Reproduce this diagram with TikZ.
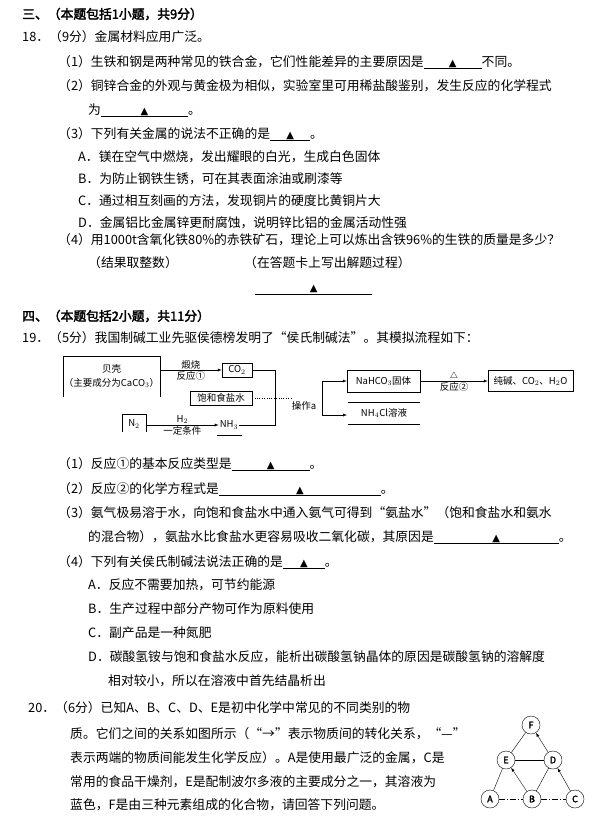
\documentclass[tikz,border=0pt]{standalone}
\usepackage{fontspec}
\setmainfont[AutoFakeBold=2.5]{Noto Sans CJK SC}
\newfontfamily\dejavu{DejaVu Sans}
\newcommand{\tri}{{\dejavu\fontsize{10}{10}\selectfont ▲}}
\newcommand{\blk}[1]{\rlap{\rule[-2.5pt]{#1pt}{0.6pt}}\makebox[#1pt]{\tri}}
\begin{document}
\begin{tikzpicture}[x=1pt,y=-1pt,
  t/.style={anchor=west,inner sep=0pt,font=\fontsize{12.8}{14}\selectfont},
  h/.style={t,font=\fontsize{12.8}{14}\selectfont\bfseries},
  fb/.style={draw,thin,inner sep=1pt,font=\fontsize{9.5}{11}\selectfont,minimum height=14pt},
  fl/.style={inner sep=1pt,font=\fontsize{9.5}{11}\selectfont},
  ar/.style={-latex,thin},
  cn/.style={circle,draw,thin,minimum size=18pt,inner sep=0pt,font=\fontsize{9}{9}\selectfont\bfseries}]
\useasboundingbox (0,0) rectangle (609,824);
\node[h] (h3) at (22,14) {三、（本题包括1小题，共9分）};
\node[t] (q18) at (22,37) {18．（9分）金属材料应用广泛。};
\node[t] (a1) at (58,62) {（1）生铁和钢是两种常见的铁合金，它们性能差异的主要原因是\blk{58}不同。};
\node[t] (a2) at (58,86) {（2）铜锌合金的外观与黄金极为相似，实验室里可用稀盐酸鉴别，发生反应的化学程式};
\node[t] (a2b) at (88,110) {为\blk{87}。};
\node[t] (a3) at (58,134) {（3）下列有关金属的说法不正确的是\blk{40}。};
\node[t] (oA) at (78,157) {A．镁在空气中燃烧，发出耀眼的白光，生成白色固体};
\node[t] (oB) at (78,179) {B．为防止钢铁生锈，可在其表面涂油或刷漆等};
\node[t] (oC) at (78,201) {C．通过相互刻画的方法，发现铜片的硬度比黄铜片大};
\node[t] (oD) at (78,223) {D．金属铝比金属锌更耐腐蚀，说明锌比铝的金属活动性强};
\node[t] (a4) at (58,240) {（4）用1000t含氧化铁80\%的赤铁矿石，理论上可以炼出含铁96\%的生铁的质量是多少？};
\node[t] (a4b) at (88,263) {（结果取整数）};
\node[t] (a4c) at (244,263) {（在答题卡上写出解题过程）};
\node[t] (bl) at (255,290) {\blk{117}};
\node[h] (h4) at (22,316) {四、（本题包括2小题，共11分）};
\node[t] (q19) at (22,338) {19．（5分）我国制碱工业先驱侯德榜发明了“侯氏制碱法”。其模拟流程如下：};
% flowchart
\draw[thin] (63,397) -- (63,356) -- (160,356) -- (160,397);
\node[fl] (bk) at (111.5,376) {\shortstack{贝壳\\[2pt]（主要成分为CaCO$_3$）}};
\node[fb,minimum width=30pt] (co2) at (237,370) {CO$_2$};
\node[fb,minimum width=62pt] (yan) at (221,398) {饱和食盐水};
\draw[thin] (122,432) -- (122,414) -- (146,414) -- (146,432);
\node[fl] (n2) at (134,424) {N$_2$};
\node[fl] (nh3) at (229,425) {NH$_3$};
\draw[thin] (217,435) -- (242,435);
\coordinate (bkr) at (160,370);
\draw[ar] (bkr) -- node[fl,above]{煅烧} node[fl,below]{反应①} (co2);
\coordinate (n2r) at (146,425);
\draw[ar] (n2r) -- node[fl,above]{H$_2$} node[fl,below]{一定条件} (nh3);
\coordinate (j1) at (275,370); \coordinate (j2) at (275,425);
\draw[thin] (co2.east) -- (j1) -- (j2) -- (nh3.east);
\coordinate (dd) at (292,398);
\draw[thin,dotted] (yan.east) -- (dd);
\node[fl] (op) at (304,406) {操作a};
\coordinate (v1) at (322,381); \coordinate (v2) at (322,415);
\node[fb,minimum width=73pt,minimum height=22pt] (nah) at (383.5,381) {NaHCO$_3$固体};
\node[fl] (nh4) at (384,413) {NH$_4$Cl溶液};
\draw[thin] (348,402) -- (420,402) (348,424) -- (420,424);
\coordinate (nh4w) at (347,415);
\draw[thin] (v1) -- (v2);
\draw[ar] (v1) -- (nah.west);
\draw[ar] (v2) -- (nh4w);
\node[fb,minimum width=85pt,minimum height=21pt,inner sep=0pt] (cj) at (530.5,381) {纯碱、CO$_2$、H$_2$O};
\draw[ar] (nah.east) -- node[fl,above]{$\triangle$} node[fl,below]{反应②} (cj);
\node[t] (b1) at (58,464) {（1）反应①的基本反应类型是\blk{78}。};
\node[t] (b2) at (58,489) {（2）反应②的化学方程式是\blk{162}。};
\node[t] (b3) at (58,513) {（3）氨气极易溶于水，向饱和食盐水中通入氨气可得到“氨盐水”（饱和食盐水和氨水};
\node[t] (b3b) at (88,537) {的混合物），氨盐水比食盐水更容易吸收二氧化碳，其原因是\blk{125}。};
\node[t] (b4) at (58,562) {（4）下列有关侯氏制碱法说法正确的是\blk{42}。};
\node[t] (pA) at (88,585) {A．反应不需要加热，可节约能源};
\node[t] (pB) at (88,609) {B．生产过程中部分产物可作为原料使用};
\node[t] (pC) at (88,633) {C．副产品是一种氮肥};
\node[t] (pD) at (88,657) {D．碳酸氢铵与饱和食盐水反应，能析出碳酸氢钠晶体的原因是碳酸氢钠的溶解度};
\node[t] (pDb) at (108,681) {相对较小，所以在溶液中首先结晶析出};
\node[t] (q20) at (28,708) {20．（6分）已知A、B、C、D、E是初中化学中常见的不同类别的物};
\node[t] (l2) at (70,734) {质。它们之间的关系如图所示（“→”表示物质间的转化关系，“—”};
\node[t] (l3) at (70,758) {表示两端的物质间能发生化学反应）。A是使用最广泛的金属，C是};
\node[t] (l4) at (70,782) {常用的食品干燥剂，E是配制波尔多液的主要成分之一，其溶液为};
\node[t] (l5) at (70,805) {蓝色，F是由三种元素组成的化合物，请回答下列问题。};
% graph
\node[cn] (F) at (531,725) {F};
\node[cn] (E) at (506,760) {E};
\node[cn] (D) at (553,760) {D};
\node[cn] (A) at (490,799) {A};
\node[cn] (B) at (532,799) {B};
\node[cn] (C) at (575,799) {C};
\draw[thin] (E) -- (F);
\draw[ar] (D) -- (F);
\draw[thin] (E) -- (D);
\draw[thin] (A) -- (E);
\draw[ar] (B) -- (E);
\draw[thin] (B) -- (D);
\draw[ar] (C) -- (D);
\draw[thin,dash pattern=on 6pt off 2pt on 1pt off 2pt] (A) -- (B);
\draw[thin,dash pattern=on 6pt off 2pt on 1pt off 2pt] (B) -- (C);
\end{tikzpicture}
\end{document}
